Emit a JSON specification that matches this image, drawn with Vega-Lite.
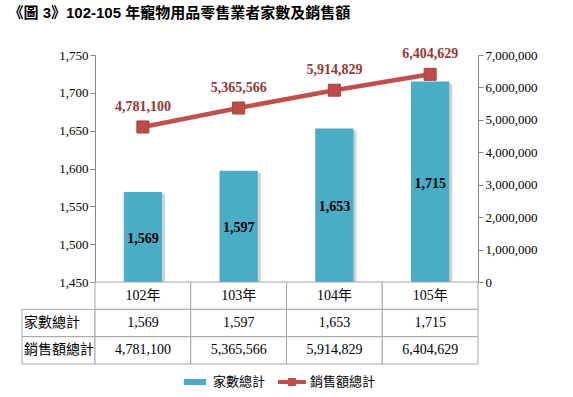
{
  "$schema": "https://vega.github.io/schema/vega-lite/v6.json",
  "padding": {"left": 8, "top": 6, "right": 5, "bottom": 5},
  "title": {"text": "《圖 3》102-105 年寵物用品零售業者家數及銷售額", "anchor": "start", "font": "Liberation Sans, Noto Sans CJK TC", "fontSize": 15, "fontWeight": "bold", "color": "#000000", "dx": -13, "offset": 26},
  "datasets": {
    "main": [
      {"year": "102年", "家數總計": 1569, "銷售額總計": 4781100},
      {"year": "103年", "家數總計": 1597, "銷售額總計": 5365566},
      {"year": "104年", "家數總計": 1653, "銷售額總計": 5914829},
      {"year": "105年", "家數總計": 1715, "銷售額總計": 6404629}
    ],
    "rows": [
      {"row": "家數總計"},
      {"row": "銷售額總計"}
    ]
  },
  "columns": 2,
  "spacing": 0,
  "bounds": "flush",
  "concat": [
    {
      "width": 73, "height": 227,
      "data": {"values": []},
      "mark": "point"
    },
    {
      "width": 383, "height": 227,
      "data": {"name": "main"},
      "encoding": {
        "x": {"field": "year", "type": "nominal", "sort": null, "scale": {"paddingInner": 0, "paddingOuter": 0},
              "axis": {"labels": false, "ticks": false, "title": null, "domainColor": "#868686", "domainWidth": 1}}
      },
      "layer": [
        {
          "encoding": {
            "y": {"field": "家數總計", "type": "quantitative", "scale": {"domain": [1450, 1750], "zero": false, "nice": false},
                  "axis": {"values": [1450, 1500, 1550, 1600, 1650, 1700, 1750], "format": ",d", "title": null, "grid": false, "labelOverlap": false,
                           "domainColor": "#868686", "tickColor": "#868686", "tickSize": 5, "labelPadding": 2,
                           "labelFont": "Liberation Serif", "labelFontSize": 13, "labelColor": "#000000"}}
          },
          "layer": [
            {
              "mark": {"type": "bar", "width": {"band": 0.4}, "color": "#000000", "opacity": 0.18, "xOffset": 3, "yOffset": 2, "clip": true},
              "encoding": {}
            },
            {
              "mark": {"type": "bar", "width": {"band": 0.4}, "color": "#4BACC6", "clip": true},
              "encoding": {
                "color": {"datum": "家數總計", "type": "nominal",
                          "scale": {"domain": ["家數總計", "銷售額總計"], "range": ["#4BACC6", "#C0504D"]},
                          "legend": {"orient": "none", "legendX": 159, "legendY": 313, "direction": "horizontal", "title": null,
                                     "labelFont": "Noto Sans CJK TC", "labelFontSize": 13, "labelColor": "#000000",
                                     "symbolSize": 784, "labelOffset": 4, "columnPadding": 12,
                                     "encode": {"symbols": {"update": {
                                       "shape": {"signal": "datum.value === '家數總計' ? 'M-0.8,-0.22H0.8V0.22H-0.8Z' : 'M-1,-0.15H1V0.15H-1Z M-0.28,-0.28H0.28V0.28H-0.28Z'"},
                                       "fill": {"signal": "datum.value === '家數總計' ? '#4BACC6' : '#C0504D'"},
                                       "stroke": {"value": "transparent"},
                                       "strokeWidth": {"value": 0},
                                       "opacity": {"value": 1},
                                       "size": {"value": 784}}}}}}
              }
            }
          ]
        },
        {
          "mark": {"type": "text", "font": "Liberation Serif", "fontSize": 14, "fontWeight": "bold", "color": "#000000", "dy": 2},
          "encoding": {
            "y": {"field": "家數總計", "type": "quantitative", "scale": {"domain": [1450, 2050], "zero": false, "nice": false}, "axis": null},
            "text": {"field": "家數總計", "type": "quantitative", "format": ","}
          }
        },
        {
          "encoding": {
            "y": {"field": "銷售額總計", "type": "quantitative", "scale": {"domain": [0, 7000000], "nice": false},
                  "axis": {"orient": "right", "values": [0, 1000000, 2000000, 3000000, 4000000, 5000000, 6000000, 7000000], "format": ",d", "title": null, "grid": false, "labelOverlap": false,
                           "domainColor": "#868686", "tickColor": "#868686", "tickSize": 5, "labelPadding": 2,
                           "labelFont": "Liberation Serif", "labelFontSize": 13, "labelColor": "#000000"}}
          },
          "layer": [
            {
              "mark": {"type": "line", "strokeWidth": 4.5, "color": "#C0504D"},
              "encoding": {
                "color": {"datum": "銷售額總計", "type": "nominal"}
              }
            },
            {
              "mark": {"type": "square", "size": 144, "opacity": 1, "color": "#BE4B48", "stroke": "#A3403D", "strokeWidth": 1},
              "encoding": {}
            },
            {
              "mark": {"type": "text", "font": "Liberation Serif", "fontSize": 14, "fontWeight": "bold", "color": "#953735", "dy": -20},
              "encoding": {
                "text": {"field": "銷售額總計", "type": "quantitative", "format": ","}
              }
            }
          ]
        }
      ],
      "resolve": {"scale": {"y": "independent"}}
    },
    {
      "width": 73, "height": 82,
      "data": {"name": "rows"},
      "encoding": {
        "y": {"field": "row", "type": "nominal", "scale": {"domain": ["header", "家數總計", "銷售額總計"], "paddingInner": 0, "paddingOuter": 0}, "axis": null}
      },
      "layer": [
        {
          "mark": {"type": "rect", "fill": "#ffffff", "stroke": "#A6A6A6", "strokeWidth": 1},
          "encoding": {
            "x": {"datum": 0, "type": "quantitative", "scale": {"domain": [0, 1]}, "axis": null},
            "x2": {"datum": 1}
          }
        },
        {
          "mark": {"type": "text", "align": "left", "dx": 2, "font": "Noto Sans CJK TC", "fontSize": 14, "color": "#000000"},
          "encoding": {
            "x": {"datum": 0, "type": "quantitative"},
            "text": {"field": "row", "type": "nominal"}
          }
        }
      ]
    },
    {
      "width": 383, "height": 82,
      "data": {"name": "main"},
      "encoding": {
        "x": {"field": "year", "type": "nominal", "sort": null, "scale": {"paddingInner": 0, "paddingOuter": 0}, "axis": null}
      },
      "layer": [
        {
          "mark": {"type": "rect", "fill": "#ffffff", "stroke": "#A6A6A6", "strokeWidth": 1},
          "encoding": {
            "y": {"datum": "header", "type": "nominal", "scale": {"domain": ["header", "家數總計", "銷售額總計"], "paddingInner": 0, "paddingOuter": 0}, "axis": null}
          }
        },
        {
          "mark": {"type": "text", "font": "Liberation Serif, Noto Sans CJK TC", "fontSize": 14, "color": "#000000"},
          "encoding": {
            "y": {"datum": "header", "type": "nominal"},
            "text": {"field": "year", "type": "nominal"}
          }
        },
        {
          "transform": [{"fold": ["家數總計", "銷售額總計"], "as": ["row", "value"]}],
          "layer": [
            {
              "mark": {"type": "rect", "fill": "#ffffff", "stroke": "#A6A6A6", "strokeWidth": 1},
              "encoding": {"y": {"field": "row", "type": "nominal"}}
            },
            {
              "mark": {"type": "text", "font": "Liberation Serif", "fontSize": 14, "color": "#000000"},
              "encoding": {
                "y": {"field": "row", "type": "nominal"},
                "text": {"field": "value", "type": "quantitative", "format": ","}
              }
            }
          ]
        }
      ]
    }
  ],
  "config": {"view": {"stroke": null}}
}
